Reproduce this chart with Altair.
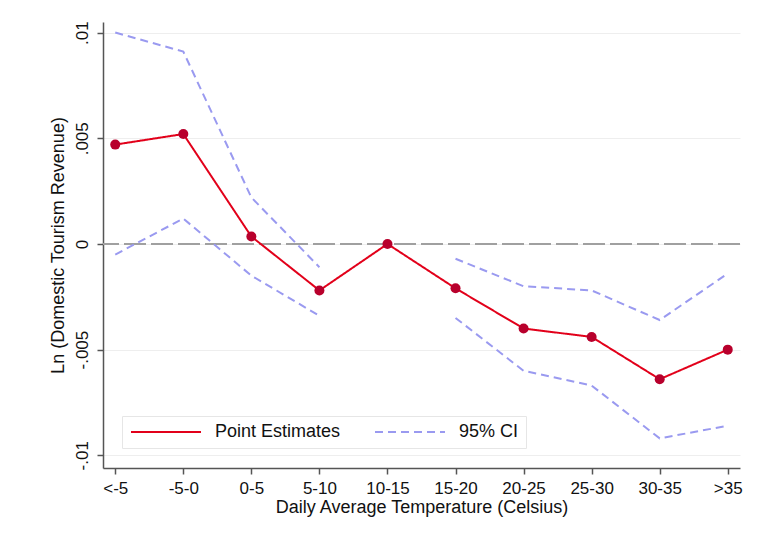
import json
import pandas as pd
import altair as alt

# ---- data ----
categories = ["<-5", "-5-0", "0-5", "5-10", "10-15", "15-20", "20-25", "25-30", "30-35", ">35"]
point_est = [0.0047, 0.0052, 0.00035, -0.0022, 0.0, -0.0021, -0.0040, -0.0044, -0.0064, -0.0050]
ci_upper = [0.0100, 0.0091, 0.0022, -0.0011, None, -0.0007, -0.0020, -0.0022, -0.0036, -0.0014]
ci_lower = [-0.0005, 0.0012, -0.0015, -0.0034, None, -0.0035, -0.0060, -0.0067, -0.0092, -0.0086]
y_ticks = [-0.01, -0.005, 0, 0.005, 0.01]
y_tick_labels = ["-.01", "-.005", "0", ".005", ".01"]
series_names = ["Point Estimates", "95% CI"]
x_title = "Daily Average Temperature (Celsius)"
y_title = "Ln (Domestic Tourism Revenue)"

FONT = "Liberation Sans"
RED = "#e2001a"
DOT = "#b8002c"
BLUE = "#9a9af0"

# ---- long table ----
rows = []
for i, v in enumerate(point_est):
    rows.append({"idx": i, "value": v, "series": series_names[0], "line": "est"})
for name, arr in (("upper", ci_upper), ("lower", ci_lower)):
    seg = 0
    for i, v in enumerate(arr):
        if v is None:
            seg += 1
            continue
        rows.append({"idx": i, "value": v, "series": series_names[1], "line": f"{name}_{seg}"})
df = pd.DataFrame(rows)
est_df = pd.DataFrame({"idx": list(range(len(point_est))), "value": point_est})
zero_df = pd.DataFrame({"value": [0.0]})

x_label_expr = json.dumps(categories) + "[datum.value]"
y_label_expr = ""
for t, l in zip(y_ticks, y_tick_labels):
    y_label_expr += f"datum.value == {t} ? '{l}' : "
y_label_expr += "''"

x_enc = alt.X(
    "idx:Q",
    scale=alt.Scale(domain=[-0.18, len(categories) - 1 + 0.18], nice=False, zero=False),
    axis=alt.Axis(values=list(range(len(categories))), labelExpr=x_label_expr,
                  title=x_title, grid=False, labelPadding=6, titlePadding=2,
                  labelFlush=False),
)
y_enc = alt.Y(
    "value:Q",
    scale=alt.Scale(domain=[-0.0106, 0.0105], nice=False, zero=False),
    axis=alt.Axis(values=y_ticks, labelExpr=y_label_expr, title=y_title,
                  grid=True, gridColor="#eeeeee", gridWidth=1,
                  labelAngle=270, labelAlign="center", labelBaseline="bottom",
                  labelPadding=6, titlePadding=6),
)

legend = alt.Legend(
    title=None, orient="none", legendX=19, legendY=394, direction="horizontal",
    symbolType="M-1,0L9,0", symbolSize=196, symbolStrokeWidth=2,
    labelFont=FONT, labelFontSize=18, labelColor="#111111", labelOffset=68,
    labelExpr="datum.label == '95% CI' ? datum.label + '\u2003\u2002' : datum.label",
    columnPadding=30, padding=7, strokeColor="#e6e6e6", fillColor="white",
)

zero_rule = alt.Chart(zero_df).mark_rule(
    color="#a0a0a0", strokeDash=[22, 5], strokeWidth=2
).encode(y=alt.Y("value:Q"))

lines = alt.Chart(df).mark_line(strokeWidth=2).encode(
    x=x_enc,
    y=y_enc,
    color=alt.Color("series:N", scale=alt.Scale(domain=series_names, range=[RED, BLUE]), legend=legend),
    strokeDash=alt.StrokeDash("series:N", scale=alt.Scale(domain=series_names, range=[[1, 0], [8, 5]]), legend=legend),
    detail="line:N",
)

points = alt.Chart(est_df).mark_circle(size=100, color=DOT, opacity=1).encode(
    x=alt.X("idx:Q"), y=alt.Y("value:Q")
)

chart = alt.layer(zero_rule, lines, points).properties(
    width=637, height=446,
    padding={"left": 95, "top": 14, "right": 14, "bottom": 60},
    autosize=alt.AutoSizeParams(type="none"),
).configure_view(stroke=None).configure_axis(
    labelFont=FONT, titleFont=FONT, labelFontSize=17, titleFontSize=18,
    titleFontWeight="normal", labelColor="#111111", titleColor="#111111",
    domainColor="#555555", tickColor="#555555", domainWidth=1.5, tickWidth=1.5,
    tickSize=6,
)

chart.save("out.html", embed_options={"renderer": "svg", "actions": False})
